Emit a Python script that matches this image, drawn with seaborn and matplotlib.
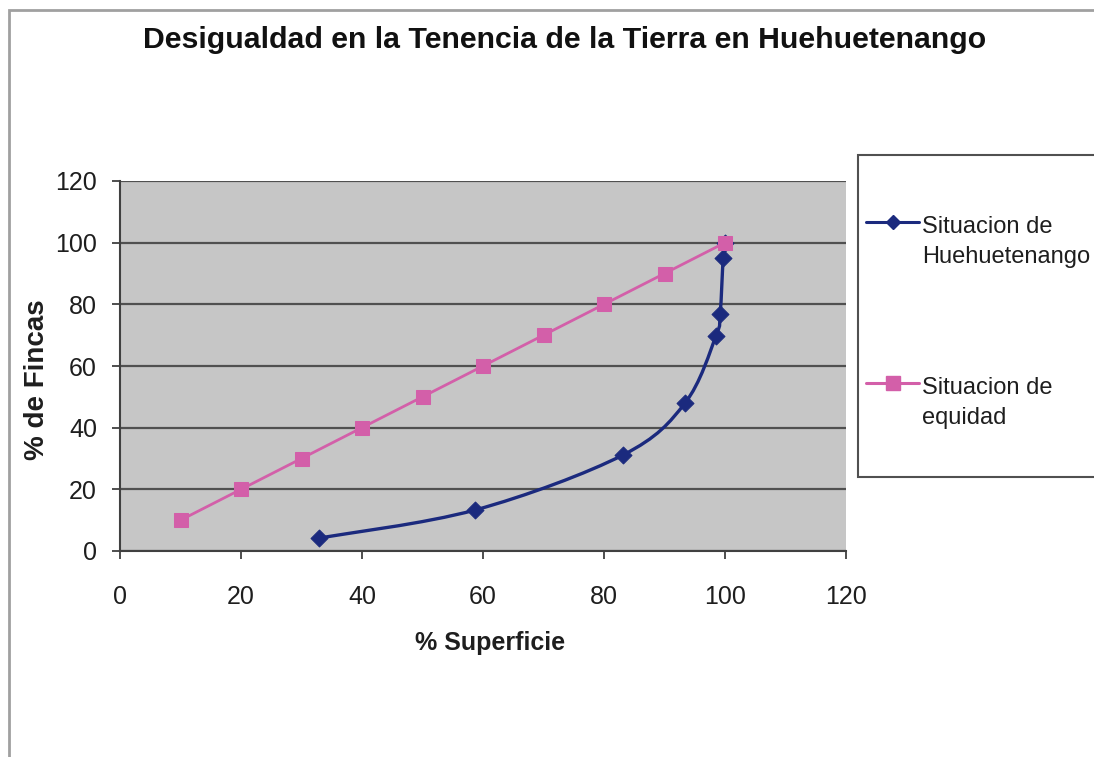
#!/usr/bin/env python3
# -*- coding: utf-8 -*-
"""
Curva de desigualdad en la tenencia de la tierra (Huehuetenango)
"""

import numpy as np
import pandas as pd
import matplotlib
matplotlib.use("Agg")
import matplotlib.pyplot as plt
from matplotlib.path import Path
from matplotlib.patches import PathPatch, Rectangle
from matplotlib.lines import Line2D
import seaborn as sns

# Datos
superficie_hue = [32.9, 58.7, 83.1, 93.4, 98.5, 99.2, 99.7, 100]
fincas_hue = [4.2, 13.3, 31.1, 48.0, 69.7, 76.9, 95.0, 100]

superficie_eq = [10, 20, 30, 40, 50, 60, 70, 80, 90, 100]
fincas_eq = [10, 20, 30, 40, 50, 60, 70, 80, 90, 100]

ticks = [0, 20, 40, 60, 80, 100, 120]

AZUL = "#1b2a7e"
ROSA = "#d35fa9"
TEXTO = "#1e1e1e"

sns.set_theme(style="white")
plt.rcParams['font.family'] = ['Liberation Sans', 'DejaVu Sans']

W, H = 1094, 757
fig = plt.figure(figsize=(W / 100, H / 100), dpi=100)

def fx(px):
    return px / W

def fy(py):
    return 1 - py / H

# borde del área del gráfico (estilo Excel)
fig.patches.append(Rectangle((fx(9), -0.1), 1.2, fy(10) + 0.1,
                             transform=fig.transFigure, fill=False,
                             edgecolor="#a0a0a0", linewidth=2))

ax = fig.add_axes([fx(120), fy(551), 726 / W, 370 / H])
ax.set_facecolor("#c6c6c6")

df_eq = pd.DataFrame({"x": superficie_eq, "y": fincas_eq})
df_hue = pd.DataFrame({"x": superficie_hue, "y": fincas_hue})

# línea suavizada (Bezier tipo Catmull-Rom, como Excel)
pts = np.column_stack([superficie_hue, fincas_hue])
verts = [tuple(pts[0])]
codes = [Path.MOVETO]
n = len(pts)
for i in range(n - 1):
    p0 = pts[i - 1] if i > 0 else pts[i]
    p1 = pts[i]
    p2 = pts[i + 1]
    p3 = pts[i + 2] if i + 2 < n else pts[i + 1]
    c1 = p1 + (p2 - p0) / 6
    c2 = p2 - (p3 - p1) / 6
    verts += [tuple(c1), tuple(c2), tuple(p2)]
    codes += [Path.CURVE4] * 3
ax.add_patch(PathPatch(Path(verts, codes), facecolor="none", edgecolor=AZUL,
                       linewidth=2.4, zorder=3))
sns.scatterplot(data=df_hue, x="x", y="y", marker="D", s=75, color=AZUL,
                edgecolor=AZUL, ax=ax, zorder=4, legend=False)

sns.lineplot(data=df_eq, x="x", y="y", marker="s", markersize=10.5, color=ROSA,
             markeredgecolor=ROSA, linewidth=2, ax=ax, zorder=5, legend=False)

ax.set_xlim(0, 120)
ax.set_ylim(0, 120)
ax.set_xticks(ticks)
ax.set_yticks(ticks)
ax.yaxis.grid(True, color="#505050", linewidth=1.6)
ax.xaxis.grid(False)
ax.set_axisbelow(True)
for side in ["top", "right"]:
    ax.spines[side].set_visible(False)
for side in ["left", "bottom"]:
    ax.spines[side].set_color("#404040")
    ax.spines[side].set_linewidth(1.5)
ax.tick_params(axis="both", which="major", length=5.5, width=1.3, color="#404040",
               direction="out", labelsize=18, labelcolor=TEXTO,
               bottom=True, left=True)
ax.tick_params(axis="x", pad=19)
ax.tick_params(axis="y", pad=11)

ax.set_xlabel("% Superficie", fontsize=18, fontweight="bold", color=TEXTO)
ax.xaxis.set_label_coords(0.51, -0.215)
ax.set_ylabel("% de Fincas", fontsize=20, fontweight="bold", color=TEXTO)
ax.yaxis.set_label_coords(-0.096, 0.462)

fig.text(fx(565), fy(40),
         "Desigualdad en la Tenencia de la Tierra en Huehuetenango",
         ha="center", va="center", fontsize=21.8, fontweight="bold", color="#111111")

# leyenda
fig.patches.append(Rectangle((fx(858), fy(477)), 0.3, 322 / H,
                             transform=fig.transFigure, facecolor="white",
                             edgecolor="#505050", linewidth=1.5))
entradas = [
    (AZUL, "D", 7.5, 222, "Situacion de\nHuehuetenango"),
    (ROSA, "s", 10.5, 383, "Situacion de\nequidad"),
]
for color, marcador, tam, ypx, texto in entradas:
    fig.add_artist(Line2D([fx(866), fx(919)], [fy(ypx), fy(ypx)],
                          transform=fig.transFigure, color=color, linewidth=2.2))
    fig.add_artist(Line2D([fx(893)], [fy(ypx)], transform=fig.transFigure,
                          color=color, marker=marcador, markersize=tam))
    fig.text(fx(922), fy(ypx - 6), texto, ha="left", va="top", fontsize=17,
             color=TEXTO, linespacing=1.45)

plt.savefig("out.png", dpi=100)
plt.close()
